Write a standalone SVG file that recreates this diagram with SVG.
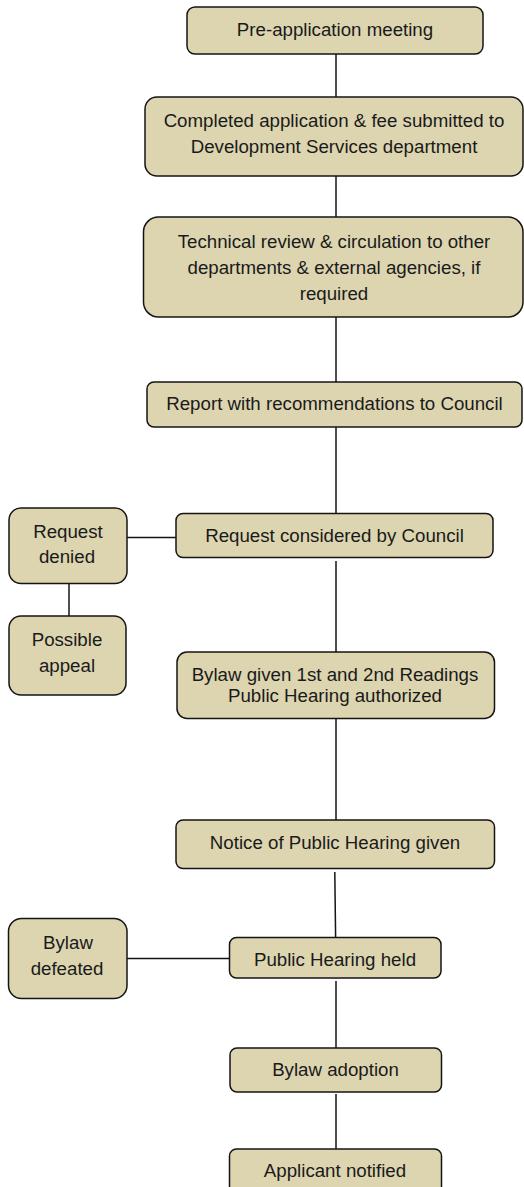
<svg xmlns="http://www.w3.org/2000/svg" width="524" height="1187" viewBox="0 0 524 1187">
<style>
.b{fill:#DCD5B0;stroke:#141414;stroke-width:1.5}
.t{font-family:"Liberation Sans",Arial,sans-serif;font-size:18.7px;fill:#1a1a1a;text-anchor:middle}
.c{stroke:#141414;stroke-width:1.5;fill:none}
</style>
<rect width="524" height="1187" fill="#ffffff"/>
<g id="connectors">
<line class="c" x1="336" y1="54" x2="336" y2="97"/>
<line class="c" x1="336" y1="176" x2="336" y2="217"/>
<line class="c" x1="336" y1="317" x2="336" y2="382"/>
<line class="c" x1="336" y1="427" x2="336" y2="513"/>
<line class="c" x1="127" y1="537.5" x2="176" y2="537.5"/>
<line class="c" x1="69" y1="583" x2="69" y2="616"/>
<line class="c" x1="336" y1="561" x2="336" y2="652"/>
<line class="c" x1="336" y1="718" x2="336" y2="820"/>
<line class="c" x1="334.8" y1="872" x2="335.6" y2="937"/>
<line class="c" x1="127" y1="958.5" x2="229" y2="958.5"/>
<line class="c" x1="336" y1="981" x2="336" y2="1048"/>
<line class="c" x1="336" y1="1094" x2="336" y2="1149"/>
</g>
<g id="n1"><rect class="b" x="187" y="7" width="296" height="47" rx="8"/><text class="t" x="335" y="36">Pre-application meeting</text></g>
<g id="n2"><rect class="b" x="145" y="97" width="378" height="79" rx="12"/><text class="t" x="334" y="127">Completed application &amp; fee submitted to</text><text class="t" x="334" y="153">Development Services department</text></g>
<g id="n3"><rect class="b" x="143.5" y="217" width="379.5" height="100" rx="15"/><text class="t" x="334" y="248">Technical review &amp; circulation to other</text><text class="t" x="334" y="274">departments &amp; external agencies, if</text><text class="t" x="334" y="300">required</text></g>
<g id="n4"><rect class="b" x="147" y="382" width="375" height="45" rx="7"/><text class="t" x="334.5" y="410">Report with recommendations to Council</text></g>
<g id="n5"><rect class="b" x="176" y="513.5" width="317" height="44" rx="7"/><text class="t" x="334.5" y="542">Request considered by Council</text></g>
<g id="n6"><rect class="b" x="9" y="508" width="118" height="75.5" rx="12"/><text class="t" x="68" y="537.5">Request</text><text class="t" x="67" y="563">denied</text></g>
<g id="n7"><rect class="b" x="9" y="616" width="117" height="79" rx="12"/><text class="t" x="67" y="646">Possible</text><text class="t" x="67" y="672">appeal</text></g>
<g id="n8"><rect class="b" x="177" y="652" width="317.5" height="66.5" rx="10"/><text class="t" x="335" y="681">Bylaw given 1st and 2nd Readings</text><text class="t" x="335" y="702">Public Hearing authorized</text></g>
<g id="n9"><rect class="b" x="176" y="820" width="318.5" height="48.5" rx="7"/><text class="t" x="335" y="849">Notice of Public Hearing given</text></g>
<g id="n10"><rect class="b" x="229.5" y="937.5" width="211.5" height="40.5" rx="7"/><text class="t" x="335" y="966">Public Hearing held</text></g>
<g id="n11"><rect class="b" x="8.5" y="918.5" width="118.5" height="80" rx="13"/><text class="t" x="68" y="948.5">Bylaw</text><text class="t" x="67" y="974.5">defeated</text></g>
<g id="n12"><rect class="b" x="230" y="1048" width="211.5" height="44" rx="7"/><text class="t" x="335.5" y="1076">Bylaw adoption</text></g>
<g id="n13"><rect class="b" x="229.5" y="1149" width="212" height="50" rx="7"/><text class="t" x="335" y="1177">Applicant notified</text></g>
</svg>
